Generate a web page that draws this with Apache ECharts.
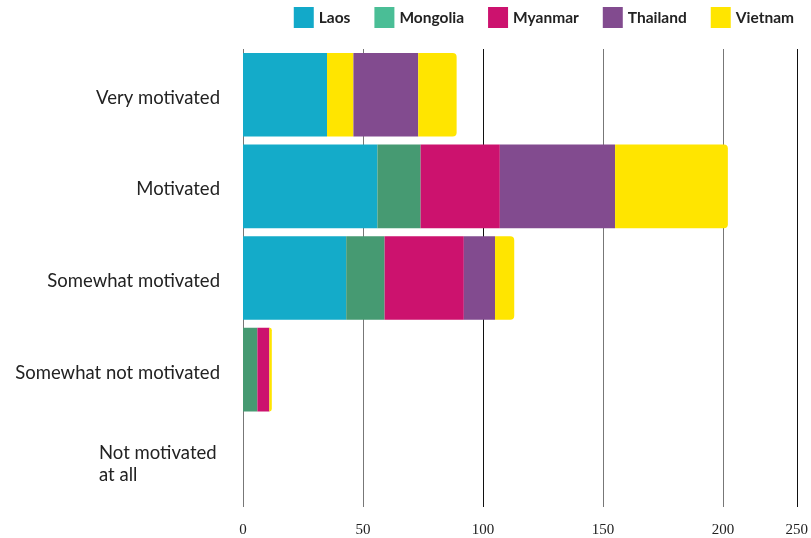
<!DOCTYPE html>
<html>
<head>
<meta charset="utf-8">
<script src="https://cdn.jsdelivr.net/npm/echarts@6/dist/echarts.min.js"></script>
<style>
  html, body { margin: 0; padding: 0; background: #fff; }
  #chart { width: 811px; height: 538px; }
</style>
</head>
<body>
<div id="chart"></div>
<script>
// Categories (top to bottom)
const categories = ['Very motivated', 'Motivated', 'Somewhat motivated', 'Somewhat not motivated', 'Not motivated\nat all'];

// Series values per category
const laos     = [35, 56, 43, 0, 0];
const mongolia = [11, 18, 16, 6, 0];
const myanmar  = [0, 33, 33, 5, 0];
const thailand = [27, 48, 13, 0, 0];
const vietnam  = [16, 47, 8, 1, 0];

// x axis ticks as they appear (last label sits at the axis end)
const xTickValues = [0, 50, 100, 150, 200, 230.7];
const xTickLabels = ['0', '50', '100', '150', '200', '250'];

const colors = {
  Laos: '#14abc9',
  Mongolia: '#469a72',
  Myanmar: '#cc126e',
  Thailand: '#824b8f',
  Vietnam: '#ffe500'
};
const legendColors = {
  Laos: '#12a9c9',
  Mongolia: '#4abe96',
  Myanmar: '#cc126e',
  Thailand: '#824b8f',
  Vietnam: '#ffe500'
};

const seriesData = [
  ['Laos', laos],
  ['Mongolia', mongolia],
  ['Myanmar', myanmar],
  ['Thailand', thailand],
  ['Vietnam', vietnam]
];

const series = seriesData.map(([name, values], si) => ({
  name: name,
  type: 'bar',
  stack: 'total',
  barCategoryGap: '8.7%',
  itemStyle: {
    color: colors[name],
    borderRadius: si === seriesData.length - 1 ? [0, 4, 4, 0] : 0
  },
  emphasis: { disabled: true },
  data: values.map((v, i) => {
    // the first row shows this segment in yellow in the original
    if (name === 'Mongolia' && i === 0) {
      return { value: v, itemStyle: { color: colors.Vietnam } };
    }
    return v;
  })
}));

const chart = echarts.init(document.getElementById('chart'), null, { renderer: 'canvas' });

chart.setOption({
  animation: false,
  legend: {
    top: 2,
    right: 12,
    itemWidth: 20,
    itemHeight: 21,
    itemGap: 24,
    icon: 'rect',
    textStyle: { fontFamily: 'Lato', fontWeight: 'bold', fontSize: 15.5, color: '#222' },
    data: seriesData.map(([name]) => ({ name: name, itemStyle: { color: legendColors[name] } }))
  },
  grid: { left: 243, right: 10, top: 49, bottom: 29, containLabel: false },
  xAxis: {
    type: 'value',
    min: 0,
    max: 230.7,
    interval: 50,
    axisLine: { show: false },
    axisTick: { show: false },
    splitLine: {
      show: true,
      lineStyle: { color: ['#777', '#777', '#111', '#777', '#777', '#111'], width: 1 }
    },
    axisLabel: {
      margin: 16,
      fontFamily: 'Liberation Serif',
      fontSize: 15,
      color: '#222',
      showMaxLabel: true,
      formatter: function (v) {
        let idx = 0;
        xTickValues.forEach((t, i) => { if (Math.abs(t - v) < Math.abs(xTickValues[idx] - v)) idx = i; });
        return xTickLabels[idx];
      }
    }
  },
  yAxis: {
    type: 'category',
    inverse: true,
    data: categories,
    axisLine: { show: false },
    axisTick: { show: false },
    axisLabel: {
      margin: 23,
      fontFamily: 'Lato',
      fontSize: 18.5,
      color: '#222',
      lineHeight: 22,
      padding: [6, 0, 0, 0],
      formatter: function (v) {
        if (v.indexOf('\n') >= 0) {
          return v.split('\n').map(s => '{l|' + s + '}').join('\n');
        }
        return v;
      },
      rich: {
        l: { width: 121, align: 'left', fontFamily: 'Lato', fontSize: 18.5, color: '#222', lineHeight: 22 }
      }
    }
  },
  series: series
});
</script>
</body>
</html>
